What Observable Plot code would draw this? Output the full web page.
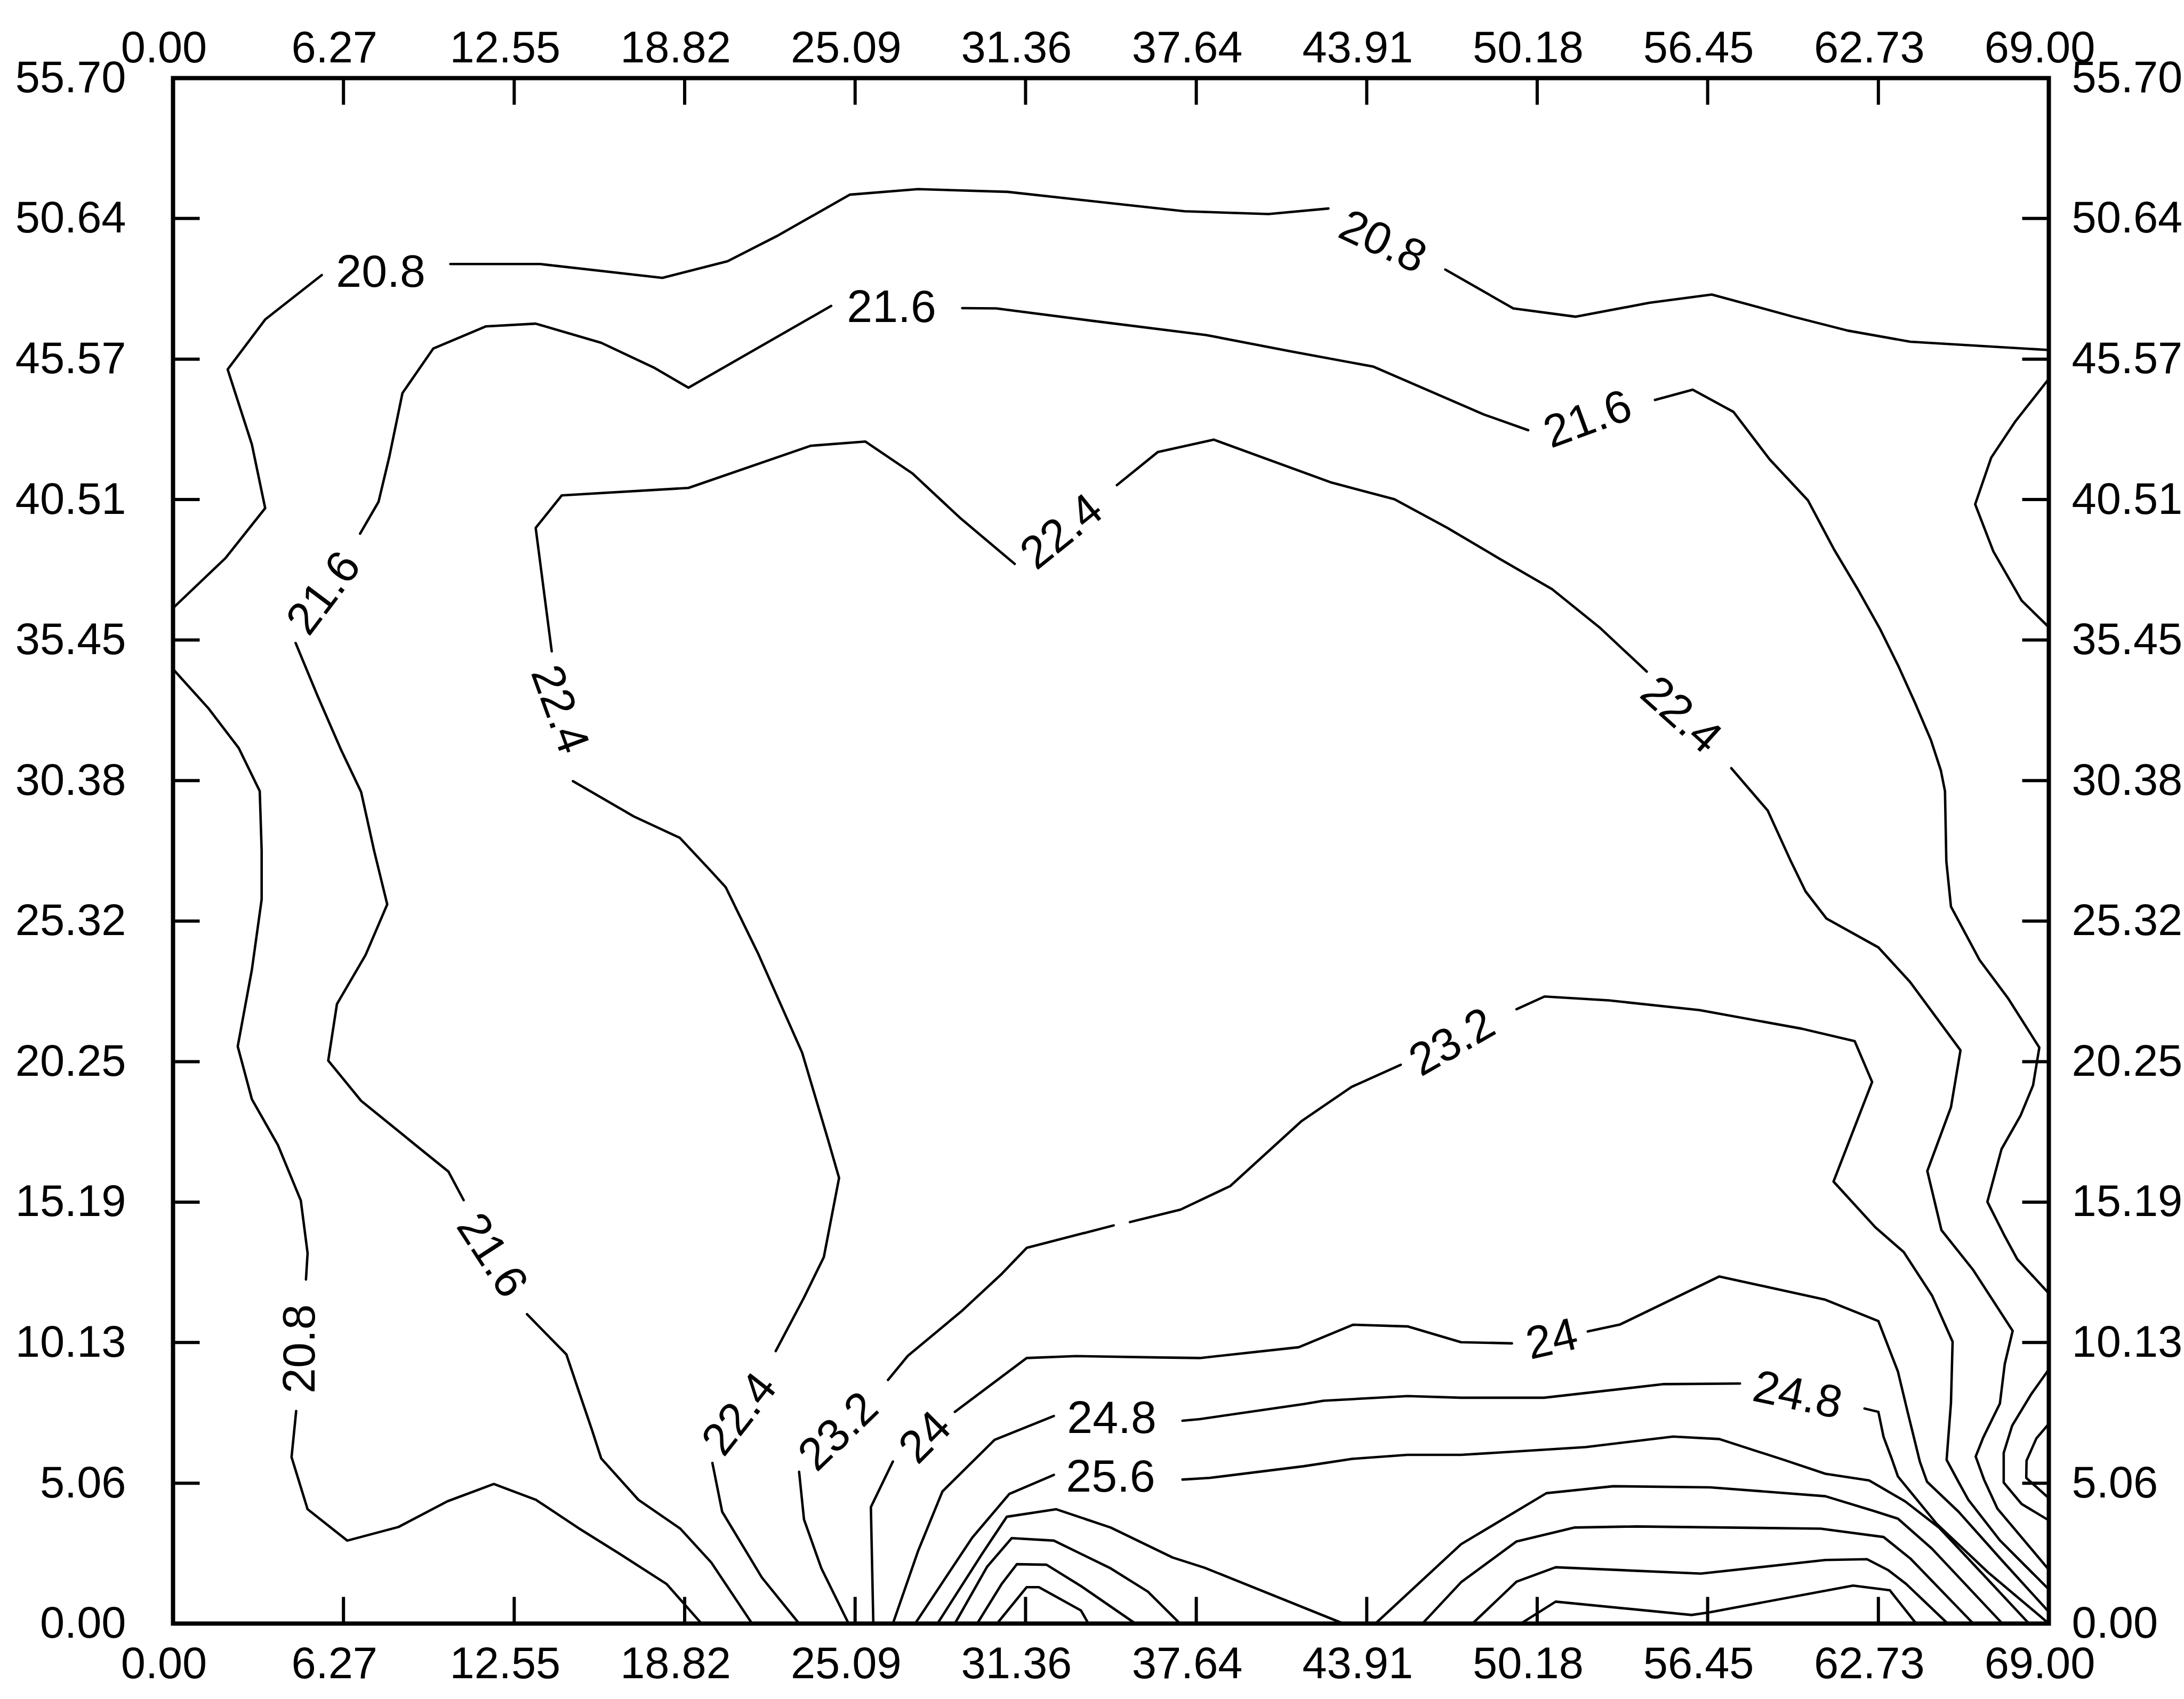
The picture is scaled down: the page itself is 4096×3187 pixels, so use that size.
<!DOCTYPE html>
<html><head><meta charset="utf-8">
<script src="https://cdn.jsdelivr.net/npm/d3@7"></script>
<script src="https://cdn.jsdelivr.net/npm/@observablehq/plot@0.6"></script>
<style>
html,body{margin:0;padding:0;background:#fff;}
#chart svg{display:block;}
</style>
</head><body><div id="chart"></div>
<script>
// Axis ticks
const xTicks = [0, 6.27, 12.55, 18.82, 25.09, 31.36, 37.64, 43.91, 50.18, 56.45, 62.73, 69.00];
const yTicks = [0, 5.06, 10.13, 15.19, 20.25, 25.32, 30.38, 35.45, 40.51, 45.57, 50.64, 55.70];

// Contour polylines (data coordinates), split where labels interrupt them
const c208a1 = [[0,36.6],[1.93,38.4],[3.39,40.2],[2.9,42.5],[2.01,45.2],[3.39,47.0],[5.47,48.6]];
const c208a2 = [[10.2,49.0],[13.5,49.0],[18.0,48.5],[20.4,49.1],[22.2,50.0],[24.9,51.5],[27.4,51.7],[30.7,51.6],[37.2,50.9],[40.3,50.8],[42.5,51.0]];
const c208a3 = [[46.8,48.8],[49.3,47.4],[51.6,47.1],[54.3,47.6],[56.6,47.9],[59.6,47.1],[61.6,46.6],[63.9,46.2],[69,45.9]];
const c208b1 = [[0,34.4],[1.29,33.0],[2.42,31.55],[3.19,30.0],[3.26,27.85],[3.26,26.1],[2.9,23.56],[2.38,20.8],[2.9,18.9],[3.86,17.24],[4.7,15.25],[4.95,13.35],[4.89,12.4]];
const c208b2 = [[4.53,7.66],[4.36,6.0],[4.95,4.12],[6.41,2.99],[8.29,3.48],[10.1,4.41],[11.8,5.03],[13.35,4.46],[14.9,3.45],[16.4,2.53],[18.15,1.43],[19.44,0]];

const c216a1 = [[21.3,0],[19.8,2.2],[18.66,3.42],[17.12,4.46],[15.75,5.95],[15.41,6.98],[14.9,8.45],[14.47,9.7],[13.02,11.15]];
const c216a2 = [[10.69,15.26],[10.13,16.29],[9.17,17.05],[6.92,18.84],[5.71,20.29],[6.03,22.33],[7.08,24.09],[7.88,25.92],[7.4,27.84],[6.92,29.97],[6.19,31.47],[5.31,33.45],[4.51,35.34]];
const c216a3 = [[6.88,39.28],[7.56,40.43],[7.96,42.07],[8.44,44.35],[9.57,45.95],[11.5,46.75],[13.34,46.85],[15.75,46.16],[17.68,45.27],[18.96,44.54],[24.21,47.49]];
const c216a4 = [[29.03,47.41],[30.28,47.4],[33.75,46.96],[38.0,46.44],[41.08,45.86],[44.16,45.3],[48.21,43.58],[49.85,43.01]];
const c216a5 = [[54.51,44.1],[55.9,44.47],[57.4,43.67],[58.73,41.96],[60.14,40.48],[61.1,38.71],[62.0,37.23],[62.8,35.83],[63.47,34.5],[64.07,33.2],[64.66,31.85],[65.03,30.74],[65.18,30.0],[65.23,27.47],[65.4,25.84],[66.45,23.92],[67.49,22.55],[68.65,20.76],[68.42,19.4],[67.96,18.31],[67.26,17.1],[66.74,15.2],[67.38,13.96],[67.84,13.13],[69,11.9]];
const c216b = [[69,44.86],[67.77,43.33],[66.88,42.02],[66.29,40.34],[66.96,38.64],[68.0,36.87],[69,35.91]];

const c224a1 = [[23.03,0],[21.66,1.66],[20.2,4.03],[19.84,5.79]];
const c224a2 = [[22.17,9.82],[23.21,11.75],[23.94,13.21],[24.5,16.06],[24.1,17.42],[23.14,20.58],[21.53,24.13],[20.33,26.54],[19.76,27.15],[18.64,28.32],[16.95,29.09],[14.71,30.36]];
const c224a3 = [[13.93,35.04],[13.34,39.49],[14.3,40.66],[18.96,40.93],[23.46,42.45],[25.47,42.6],[27.2,41.45],[28.94,39.86],[30.96,38.19]];
const c224a4 = [[34.72,41.03],[36.22,42.22],[38.28,42.67],[42.62,41.12],[44.93,40.52],[46.86,39.5],[48.79,38.38],[50.73,37.28],[52.51,35.87],[54.21,34.31]];
const c224a5 = [[57.32,30.83],[58.66,29.3],[59.48,27.54],[60.05,26.39],[60.82,25.41],[62.73,24.37],[63.89,23.13],[65.75,20.66],[65.4,18.61],[64.53,16.31],[65.05,14.18],[66.22,12.74],[67.67,10.55],[67.38,9.36],[67.2,7.93],[66.58,6.69],[66.31,6.02],[66.62,5.18],[67.11,4.14],[69,1.94]];

const c232a1 = [[24.85,0],[23.85,1.99],[23.21,3.75],[23.03,5.47]];
const c232a2 = [[26.3,8.78],[27.03,9.65],[29.03,11.28],[30.49,12.61],[31.4,13.54],[34.6,14.35]];
const c232a3 = [[35.2,14.47],[37.06,14.92],[38.89,15.77],[41.5,18.1],[43.35,19.34],[45.16,20.14]];
const c232a4 = [[49.42,22.14],[50.45,22.6],[52.81,22.46],[56.15,22.11],[59.91,21.44],[61.86,20.99],[62.5,19.52],[61.08,15.93],[62.62,14.28],[63.66,13.39],[64.71,11.81],[65.46,10.16],[65.4,7.95],[65.24,5.9],[65.68,5.1],[66.04,4.46],[67.2,3.0],[69,1.23]];

const c240a1 = [[25.76,0],[25.67,4.2],[26.48,5.84]];
const c240a2 = [[28.76,7.63],[31.4,9.57],[33.22,9.64],[36.31,9.59],[37.77,9.57],[41.41,9.96],[43.41,10.77],[45.41,10.71],[47.38,10.14],[49.25,10.1]];
const c240a3 = [[52.04,10.53],[53.23,10.78],[56.88,12.51],[60.78,11.67],[62.73,10.9],[63.45,9.08],[63.81,7.61],[64.26,5.82],[64.52,5.11],[65.68,4.03],[67.3,2.25],[69,0.42]];

const c248a1 = [[26.48,0],[27.4,2.6],[28.3,4.76],[30.22,6.62],[32.4,7.48]];
const c248a2 = [[37.13,7.31],[37.77,7.37],[41.59,7.91],[42.32,8.03],[45.41,8.2],[47.38,8.14],[50.43,8.14],[54.84,8.63],[57.64,8.65]];
const c248a3 = [[62.22,7.75],[62.73,7.63],[62.92,6.73],[63.23,5.92],[63.45,5.3],[64.88,3.59],[66.76,1.85],[69,0]];

const c256a1 = [[27.3,0],[29.4,3.1],[30.76,4.67],[32.4,5.36]];
const c256a2 = [[37.13,5.19],[38.13,5.25],[41.59,5.67],[43.41,5.94],[45.41,6.08],[47.38,6.08],[51.96,6.36],[55.18,6.74],[56.88,6.65],[59.25,5.9],[60.78,5.4],[62.39,5.16],[63.72,4.4],[64.97,3.45],[66.6,1.75],[68.27,0]];

const c264a = [[28.12,0],[29.76,2.51],[30.67,3.85],[32.49,4.12],[34.49,3.46],[36.77,2.38],[37.95,2.01],[43.05,0]];
const c272a = [[28.76,0],[29.94,2.04],[30.85,3.08],[32.4,2.99],[34.49,1.99],[35.86,1.15],[37.04,0]];
const c280a = [[29.58,0],[30.49,1.44],[31.04,2.14],[32.13,2.12],[33.4,1.35],[35.4,0]];
const c288a = [[30.31,0],[31.4,1.31],[31.85,1.31],[33.4,0.47],[33.67,0]];

const c264b = [[44.23,0],[47.38,2.86],[50.52,4.7],[52.98,4.95],[56.54,4.91],[60.78,4.59],[62.56,4.06],[63.45,3.78],[64.7,2.7],[67.29,0]];
const c272b = [[45.96,0],[47.38,1.49],[49.42,2.96],[51.54,3.46],[53.82,3.5],[60.61,3.42],[62.92,3.12],[63.9,2.35],[66.22,0]];
const c280b = [[47.8,0],[49.42,1.51],[50.86,2.03],[56.2,1.8],[60.78,2.29],[62.31,2.32],[63.1,1.92],[63.75,1.43],[65.28,0]];
const c288b = [[49.58,0],[50.86,0.79],[55.86,0.31],[56.54,0.41],[61.8,1.37],[63.15,1.2],[64.12,0]];

const c200a = [[69,9.16],[68.36,8.28],[67.65,7.13],[67.34,6.15],[67.34,5.08],[68.0,4.31],[69,3.72]];
const c192a = [[69,7.2],[68.54,6.67],[68.18,5.87],[68.17,5.25],[69,4.52]];

const segmentList = [
  ["c208a1", c208a1], ["c208a2", c208a2], ["c208a3", c208a3], ["c208b1", c208b1], ["c208b2", c208b2],
  ["c216a1", c216a1], ["c216a2", c216a2], ["c216a3", c216a3], ["c216a4", c216a4], ["c216a5", c216a5], ["c216b", c216b],
  ["c224a1", c224a1], ["c224a2", c224a2], ["c224a3", c224a3], ["c224a4", c224a4], ["c224a5", c224a5],
  ["c232a1", c232a1], ["c232a2", c232a2], ["c232a3", c232a3], ["c232a4", c232a4],
  ["c240a1", c240a1], ["c240a2", c240a2], ["c240a3", c240a3],
  ["c248a1", c248a1], ["c248a2", c248a2], ["c248a3", c248a3],
  ["c256a1", c256a1], ["c256a2", c256a2],
  ["c264a", c264a], ["c272a", c272a], ["c280a", c280a], ["c288a", c288a],
  ["c264b", c264b], ["c272b", c272b], ["c280b", c280b], ["c288b", c288b],
  ["c200a", c200a], ["c192a", c192a]
];
const rows = segmentList.flatMap(([id, pts]) => pts.map(([x, y]) => ({id, x, y})));

// Contour labels
const labelText  = ["20.8","20.8","20.8","21.6","21.6","21.6","21.6","22.4","22.4","22.4","22.4","23.2","23.2","24","24","24.8","24.8","25.6"];
const labelX     = [7.64, 44.5, 4.67, 26.43, 52.04, 5.55, 11.73, 14.22, 32.69, 55.47, 20.84, 24.48, 47.05, 27.67, 50.72, 34.53, 59.76, 34.49];
const labelY     = [48.7, 49.8, 9.9, 47.44, 43.4, 37.14, 13.27, 32.95, 39.35, 32.75, 7.55, 6.92, 20.95, 6.71, 10.24, 7.4, 8.23, 5.28];
const labelAngle = [0, 25, -90, 0, -20, -53, 57, 70, -39, 42, -52, -44, -30, -45, -13, 0, 12, 0];
const labels = labelText.map((t, i) => ({t, x: labelX[i], y: labelY[i], r: labelAngle[i]}));

const font = "Liberation Sans, Arial, Helvetica, sans-serif";
const tickShape = {draw(context, l) { context.moveTo(0, 0); context.lineTo(0, -l); }};
const tickOpts = {length: 50, anchor: "start", shape: tickShape, stroke: "black", strokeWidth: 6, strokeLinecap: "butt"};
const fmt = d => d.toFixed(2);

const chart = Plot.plot({
  width: 4096, height: 3187,
  marginLeft: 324, marginRight: 254, marginTop: 146, marginBottom: 142,
  style: {fontFamily: font, background: "white", color: "black"},
  x: {domain: [0, 69], label: null},
  y: {domain: [0, 55.7], label: null},
  marks: [
    Plot.line(rows, {x: "x", y: "y", z: "id", stroke: "black", strokeWidth: 4.6, strokeLinejoin: "round", strokeLinecap: "round"}),
    Plot.text(labels, {x: "x", y: "y", text: "t", rotate: "r", fontSize: 86, fill: "black", fontFamily: font}),
    Plot.vector(xTicks, {x: d => d, y: () => 0, rotate: 0, ...tickOpts}),
    Plot.vector(xTicks, {x: d => d, y: () => 55.7, rotate: 180, ...tickOpts}),
    Plot.vector(yTicks, {x: () => 0, y: d => d, rotate: 90, ...tickOpts}),
    Plot.vector(yTicks, {x: () => 69, y: d => d, rotate: -90, ...tickOpts}),
    Plot.frame({stroke: "black", strokeWidth: 8}),
    Plot.axisX({anchor: "bottom", ticks: xTicks, tickFormat: fmt, tickSize: 0, tickPadding: 44, fontSize: 83, dx: -17, label: null, fill: "black"}),
    Plot.axisX({anchor: "top", ticks: xTicks, tickFormat: fmt, tickSize: 0, tickPadding: 30, fontSize: 83, dx: -17, label: null, fill: "black"}),
    Plot.axisY({anchor: "left", ticks: yTicks, tickFormat: fmt, tickSize: 0, tickPadding: 88, fontSize: 83, label: null, fill: "black"}),
    Plot.axisY({anchor: "right", ticks: yTicks, tickFormat: fmt, tickSize: 0, tickPadding: 43, fontSize: 83, label: null, fill: "black"})
  ]
});
document.getElementById("chart").appendChild(chart);
</script>
</body></html>
